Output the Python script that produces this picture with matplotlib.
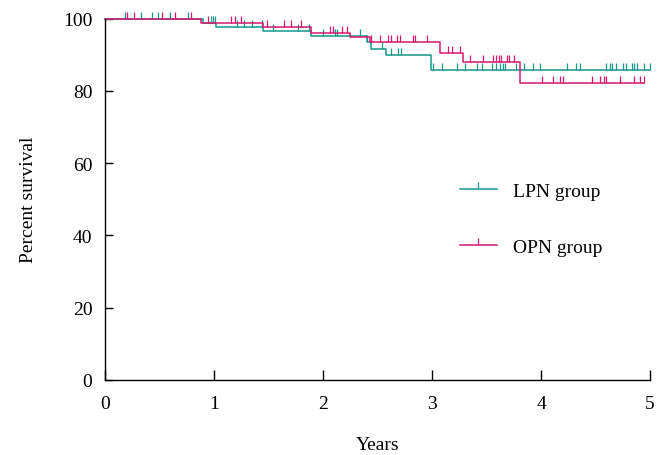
import matplotlib
matplotlib.use("Agg")
import matplotlib.pyplot as plt
import numpy as np
from matplotlib.lines import Line2D
from matplotlib.path import Path

plt.rcParams['font.family'] = ['Liberation Serif', 'DejaVu Serif']

# Kaplan-Meier steps: event times (years) and survival (%) after each event
lpn_event_t = [0.90, 1.02, 1.45, 1.89, 2.40, 2.44, 2.58, 2.99]
lpn_event_s = [98.9, 97.7, 96.6, 95.1, 93.4, 91.7, 90.0, 85.8]
lpn_end = 5.0
opn_event_t = [0.88, 1.45, 1.89, 2.25, 2.43, 3.07, 3.28, 3.81]
opn_event_s = [98.9, 97.6, 96.0, 94.8, 93.4, 90.6, 87.9, 82.3]
opn_end = 4.94

# censored observations (years)
lpn_cens = [0.18, 0.33, 0.43, 0.49, 0.60, 0.76, 0.97, 0.99, 1.01, 1.21, 1.28,
            1.35, 1.44, 1.54, 1.77, 1.87, 2.00, 2.11, 2.13, 2.34, 2.40, 2.54,
            2.62, 2.69, 2.72, 3.01, 3.09, 3.23, 3.30, 3.41, 3.46, 3.55, 3.59,
            3.62, 3.65, 3.67, 3.77, 3.84, 3.93, 3.99, 4.24, 4.32, 4.36, 4.60,
            4.63, 4.65, 4.69, 4.75, 4.78, 4.83, 4.85, 4.88, 4.94, 5.0]
opn_cens = [0.20, 0.27, 0.52, 0.64, 0.79, 0.95, 1.16, 1.19, 1.25, 1.49, 1.64,
            1.71, 1.80, 2.06, 2.09, 2.17, 2.22, 2.44, 2.52, 2.60, 2.62, 2.68,
            2.71, 2.83, 2.84, 2.95, 3.15, 3.18, 3.26, 3.35, 3.47, 3.56, 3.59,
            3.61, 3.63, 3.69, 3.71, 3.75, 4.01, 4.11, 4.17, 4.20, 4.47, 4.54,
            4.58, 4.60, 4.72, 4.85, 4.91, 4.94]

teal = '#14998b'
magenta = '#d7186c'

# upward tick marker for censoring
tick = Path([(0, 0), (0, 1)], [Path.MOVETO, Path.LINETO])


def km_curve(ax, et, es, end, cens, color, label):
    xs = [0] + et + [end]
    ys = [100] + es + [es[-1]]
    ax.step(xs, ys, where='post', color=color, lw=1.1, clip_on=False)
    levels = np.array([100] + es)
    idx = np.searchsorted(et, cens, side='right')
    ax.plot(cens, levels[idx], ls='none', marker=tick, markersize=10,
            mew=0.9, color=color, clip_on=False)
    return Line2D([], [], color=color, lw=1.1, marker=tick, markersize=10,
                  mew=0.9, label=label)


fig = plt.figure(figsize=(6.64, 4.56), dpi=100)
ax = fig.add_axes([0.158, 0.165, 0.821, 0.792])

h1 = km_curve(ax, lpn_event_t, lpn_event_s, lpn_end, lpn_cens, teal, 'LPN group')
h2 = km_curve(ax, opn_event_t, opn_event_s, opn_end, opn_cens, magenta, 'OPN group')

fs = 14
ax.set_xlim(0, 5)
ax.set_ylim(0, 100)
ax.set_xticks([0, 1, 2, 3, 4, 5])
ax.set_yticks([0, 20, 40, 60, 80, 100])
ax.spines['top'].set_visible(False)
ax.spines['right'].set_visible(False)
for s in ('left', 'bottom'):
    ax.spines[s].set_linewidth(1.0)
ax.tick_params(axis='x', direction='in', length=7, width=1.0, pad=11, labelsize=fs)
ax.tick_params(axis='y', direction='in', length=6, width=1.0, pad=9, labelsize=fs)
ax.set_xlabel('Years', fontsize=fs, labelpad=17)
ax.set_ylabel('Percent survival', fontsize=fs, labelpad=19)

ax.legend(handles=[h1, h2], loc='center left', bbox_to_anchor=(0.651, 0.445),
          frameon=False, fontsize=fs, handlelength=1.9, handletextpad=0.85,
          labelspacing=2.0, borderpad=0, borderaxespad=0, numpoints=1)

fig.savefig('out.png', dpi=100)
